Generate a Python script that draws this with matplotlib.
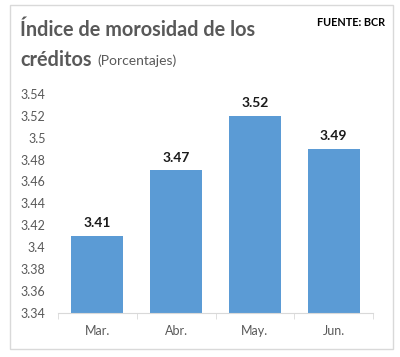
import matplotlib
matplotlib.use("Agg")
import matplotlib.pyplot as plt
from matplotlib.patches import Rectangle

meses = ["Mar.", "Abr.", "May.", "Jun."]
morosidad = [3.41, 3.47, 3.52, 3.49]
y_ticks = [3.34, 3.36, 3.38, 3.40, 3.42, 3.44, 3.46, 3.48, 3.50, 3.52, 3.54]
y_tick_labels = ["3.34", "3.36", "3.38", "3.4", "3.42", "3.44", "3.46", "3.48", "3.5", "3.52", "3.54"]

plt.rcParams["font.family"] = ["Lato", "DejaVu Sans"]

fig = plt.figure(figsize=(4.0, 3.57), dpi=100, facecolor="white")
ax = fig.add_axes([0.145, 0.124, 0.7875, 0.613])

x = range(len(meses))
ax.bar(x, morosidad, width=0.66, color="#5b9bd5", zorder=2)
for xi, v in zip(x, morosidad):
    ax.annotate(f"{v:.2f}", (xi, v), xytext=(0, 5), textcoords="offset points",
                ha="center", va="bottom", fontsize=10, fontweight="bold", color="#1a1a1a")

ax.set_ylim(3.34, 3.54)
ax.set_xlim(-0.5, len(meses) - 0.5)
ax.set_yticks(y_ticks)
ax.set_yticklabels(y_tick_labels)
ax.set_xticks(list(x))
ax.set_xticklabels(meses)
ax.set_xticks([i - 0.5 for i in range(len(meses) + 1)], minor=True)
ax.tick_params(axis="y", length=0, labelsize=9, labelcolor="#595959", pad=9)
ax.tick_params(axis="x", which="major", length=0, labelsize=9, labelcolor="#595959", pad=9)
ax.tick_params(axis="x", which="minor", length=4, color="#d9d9d9")
for side in ["left", "right", "top"]:
    ax.spines[side].set_visible(False)
ax.spines["bottom"].set_color("#d9d9d9")

fig.patches.append(Rectangle((10 / 400, 8 / 357), 383 / 400, 344 / 357,
                             transform=fig.transFigure, fill=False,
                             edgecolor="#d9d9d9", linewidth=1))

fig.text(20 / 400, 1 - 30 / 357, "Índice de morosidad de los", fontsize=14.3,
         fontweight="bold", color="#595959", va="center", ha="left")
fig.text(20 / 400, 1 - 60 / 357, "créditos", fontsize=14.3,
         fontweight="bold", color="#595959", va="center", ha="left")
fig.text(97 / 400, 1 - 61 / 357, "(Porcentajes)", fontsize=10,
         color="#595959", va="center", ha="left")
fig.text(385 / 400, 1 - 22 / 357, "FUENTE: BCR", fontsize=7.8,
         fontweight="bold", color="#000000", va="center", ha="right")

plt.savefig("out.png", dpi=100)
